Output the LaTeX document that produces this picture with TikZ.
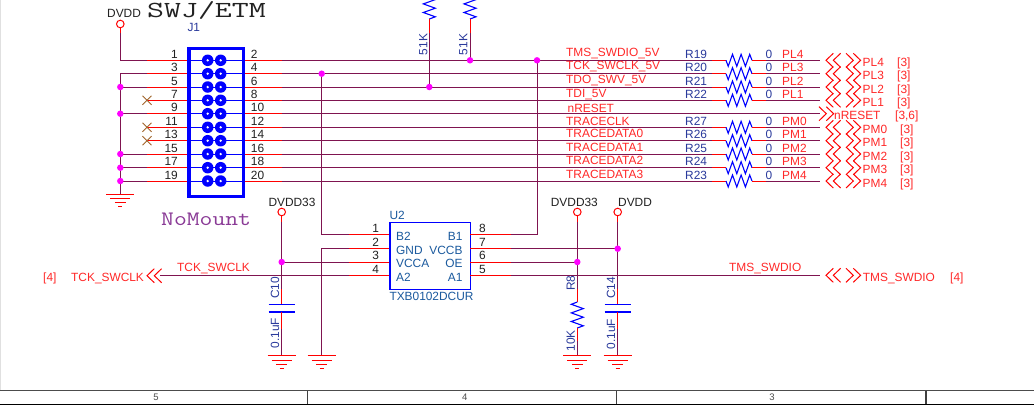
\documentclass[tikz,border=0pt]{standalone}
\usepackage{fontspec}
\setmainfont{Liberation Sans}
\setmonofont{Latin Modern Mono}
\definecolor{wirec}{HTML}{7F1450}
\definecolor{redt}{HTML}{FF2828}
\definecolor{navyt}{HTML}{2A3A9C}
\definecolor{chipt}{HTML}{1B5A9E}
\definecolor{blackt}{HTML}{222222}
\definecolor{nomountc}{HTML}{8A3A96}
\definecolor{juncc}{HTML}{FF00FF}
\definecolor{crossc}{HTML}{A0642A}
\tikzset{
  base/.style={inner sep=0pt,font=\fontsize{11.9}{12}\selectfont},
  tl/.style={base,anchor=base west},
  tr/.style={base,anchor=base east},
  tv/.style={base,anchor=center,rotate=90,text=navyt},
  red label/.style={text=redt},
  navy label/.style={text=navyt},
  chip label/.style={text=chipt},
  black label/.style={text=blackt},
  wire/.style={draw=wirec,line width=1pt},
  stub/.style={draw=red,line width=1pt},
  blueline/.style={draw=blue,line width=1pt},
  junction/.style={circle,fill=juncc,draw=none,inner sep=0pt,minimum size=6.5pt},
  pwr/.style={circle,draw=red,fill=white,line width=1pt,inner sep=0pt,minimum size=7.6pt},
  pins/.style={circle,fill=blue,draw=none,inner sep=0pt,minimum size=11.5pt},
  pics/hresistor/.style={code={
    \draw[draw=blue,line width=1.1pt,line join=miter] (0,0)--(2.2,6)--(6.5,-6)--(10.8,6)--(15.1,-6)--(19.4,6)--(23.7,-6)--(26,0);}},
  pics/vresistor/.style={code={
    \draw[draw=blue,line width=1.1pt] (0,0)--(6,-2.2)--(-6,-6.5)--(6,-10.8)--(-6,-15.1)--(6,-19.4)--(-6,-23.7)--(0,-26);}},
  pics/ground/.style={code={
    \draw[stub] (-14,0)--(14,0) (-10,4.3)--(10,4.3) (-5.5,8.3)--(5.5,8.3) (-2,12.6)--(2,12.6);}},
  pics/chevl/.style={code={
    \draw[draw=red,line width=1pt] (7.3,-7)--(0,0)--(7.3,7) (14.6,-7)--(7.3,0)--(14.6,7);}},
  pics/chevr/.style={code={
    \draw[draw=red,line width=1pt] (0,-7)--(7.3,0)--(0,7) (7.3,-7)--(14.6,0)--(7.3,7);}},
  pics/cross/.style={code={
    \draw[draw=crossc,line width=.9pt] (-4.5,-4.5)--(4.5,4.5) (-4.5,4.5)--(4.5,-4.5);}},
  pics/capacitor/.style={code={
    \draw[draw=blue,line width=1.5pt] (-13,0)--(13,0) (-13,7.3)--(13,7.3);}},
}
\begin{document}
\begin{tikzpicture}[x=1pt,y=-1pt]
\path[clip] (0,0) rectangle (1034,405);
\fill[white] (0,0) rectangle (1034,405);

% ---- connector J1 rows
\foreach \i/\y in {1/60.3,2/73.7,3/87,4/100.3,5/113.7,6/127.3,7/140.7,8/154,9/167.7,10/181}{
  \coordinate (la\i) at (147,\y);
  \coordinate (lb\i) at (187.3,\y);
  \coordinate (ra\i) at (241.7,\y);
  \coordinate (rb\i) at (282,\y);
  \coordinate (bus\i) at (120.3,\y);
  \coordinate (ea\i) at (712,\y);
  \coordinate (eb\i) at (726,\y);
  \coordinate (ec\i) at (752,\y);
  \coordinate (ed\i) at (766,\y);
  \coordinate (ee\i) at (820,\y);
  \draw[stub] (la\i)--(lb\i);
  \draw[stub] (ra\i)--(rb\i);
  \draw[blueline] (lb\i)--(ra\i);
  \node[pins] (pa\i) at (207.7,\y) {};
  \node[pins] (pb\i) at (220.7,\y) {};
  \fill[white] (pa\i) circle (1.3);
  \fill[white] (pb\i) circle (1.3);
}
\node[draw=blue,line width=3.4pt,minimum width=54.4pt,minimum height=148.3pt,inner sep=0pt,anchor=north west] (J1box) at (187.3,46.7) {};

% left bus
\foreach \i in {1,2,3,5,8,9,10}{ \draw[wire] (bus\i)--(la\i); }
\coordinate (gndA) at (120.3,194.3);
\draw[wire] (bus2)--(gndA);
\pic at (gndA) {ground};
\foreach \i in {3,5,8,9,10}{ \node[junction] (jl\i) at (bus\i) {}; }
\foreach \i in {4,6,7}{ \pic at (la\i) {cross}; }

% DVDD power
\node[pwr] (pDVDD) at (120.3,24) {};
\coordinate (pDa) at (120.3,33);
\draw[stub] (pDVDD)--(pDa);
\draw[wire] (pDa)--(bus1);
\node[tl,black label] (tDVDD) at (107,17.3) {DVDD};

% right rows
\foreach \i in {1,2,3,4,6,7,8,9,10}{
  \draw[wire] (rb\i)--(ea\i);
  \draw[stub] (ea\i)--(eb\i);
  \pic at (eb\i) {hresistor};
  \draw[stub] (ec\i)--(ed\i);
  \draw[wire] (ed\i)--(ee\i);
}
\draw[wire] (rb5)--(ee5);

% pull-up resistors
\coordinate (puA) at (429.3,19); \coordinate (puAm) at (429.3,33);
\coordinate (puB) at (470,19);   \coordinate (puBm) at (470,33);
\coordinate (juA) at (429.3,87); \coordinate (juB) at (470,60.3);
\pic at (puA) {vresistor};
\pic at (puB) {vresistor};
\draw[stub] (puA)--(puAm); \draw[stub] (puB)--(puBm);
\draw[wire] (puAm)--(juA); \draw[wire] (puBm)--(juB);
\node[tv] (tRa) at (423.3,44.5) {51K};
\node[tv] (tRb) at (463.3,44.5) {51K};

% U2
\node[draw=blue,line width=1.2pt,minimum width=80.7pt,minimum height=67pt,inner sep=0pt,anchor=north west] (U2) at (389.3,221.7) {};
\foreach \i/\y in {1/234.7,2/248.7,3/262,4/275.3}{
  \coordinate (ul\i) at (349,\y);
  \coordinate (um\i) at (389.3,\y);
  \coordinate (un\i) at (470,\y);
  \coordinate (ur\i) at (511,\y);
  \draw[stub] (ul\i)--(um\i);
  \draw[stub] (un\i)--(ur\i);
}
\coordinate (vA) at (321.7,73.7);
\coordinate (vB) at (321.7,234.7);
\coordinate (vC) at (321.7,248.7);
\coordinate (vD) at (321.7,355.7);
\coordinate (vE) at (537,60.3);
\coordinate (vF) at (537,234.7);
\draw[wire] (vA)--(vB)--(ul1);
\draw[wire] (ul2)--(vC)--(vD);
\pic at (vD) {ground};
\draw[wire] (ur1)--(vF)--(vE);

% C10 branch
\node[pwr] (pC10) at (281.7,212) {};
\coordinate (c10a) at (281.7,222);
\coordinate (c10b) at (281.7,289);
\coordinate (c10c) at (281.7,304.7);
\coordinate (c10d) at (281.7,312);
\coordinate (c10e) at (281.7,329);
\coordinate (c10g) at (281.7,355.7);
\coordinate (c10j) at (281.7,262);
\draw[stub] (pC10)--(c10a);
\draw[wire] (c10a)--(c10b);
\draw[stub] (c10b)--(c10c);
\pic at (c10c) {capacitor};
\draw[stub] (c10d)--(c10e);
\draw[wire] (c10e)--(c10g);
\pic at (c10g) {ground};
\draw[wire] (c10j)--(ul3);
\node[tl,black label] (tC10p) at (268.3,206) {DVDD33};
\node[tv] (tC10) at (275,288) {C10};
\node[tv] (tC10v) at (275,333.3) {0.1uF};

% R8 branch
\node[pwr] (pR8) at (577.3,212) {};
\coordinate (r8a) at (577.3,222);
\coordinate (r8b) at (577.3,289);
\coordinate (r8c) at (577.3,328);
\coordinate (r8d) at (577.3,301.7);
\coordinate (r8e) at (577.3,341);
\coordinate (r8g) at (577.3,355.7);
\coordinate (r8j) at (577.3,262);
\draw[stub] (pR8)--(r8a);
\draw[wire] (r8a)--(r8b);
\draw[stub] (r8b)--(r8d);
\pic at (r8c) {vresistor};
\draw[stub] (r8c)--(r8e);
\draw[wire] (r8e)--(r8g);
\pic at (r8g) {ground};
\draw[wire] (ur3)--(r8j);
\node[tl,black label] (tR8p) at (550.7,206) {DVDD33};
\node[tv] (tR8) at (570.7,283) {R8};
\node[tv] (tR8v) at (570.7,341) {10K};

% C14 branch
\node[pwr] (pC14) at (617.7,212) {};
\coordinate (c14a) at (617.7,222);
\coordinate (c14b) at (617.7,289);
\coordinate (c14c) at (617.7,304.7);
\coordinate (c14d) at (617.7,312);
\coordinate (c14e) at (617.7,329);
\coordinate (c14g) at (617.7,355.7);
\coordinate (c14j) at (617.7,248.7);
\draw[stub] (pC14)--(c14a);
\draw[wire] (c14a)--(c14b);
\draw[stub] (c14b)--(c14c);
\pic at (c14c) {capacitor};
\draw[stub] (c14d)--(c14e);
\draw[wire] (c14e)--(c14g);
\pic at (c14g) {ground};
\draw[wire] (ur2)--(c14j);
\node[tl,black label] (tC14p) at (618,206) {DVDD};
\node[tv] (tC14) at (611,287.7) {C14};
\node[tv] (tC14v) at (611,334) {0.1uF};

% long signal row
\coordinate (sigL) at (160,275.3);
\coordinate (sigR) at (820,275.3);
\draw[wire] (sigL)--(ul4);
\draw[wire] (ur4)--(sigR);

% junctions
\foreach \n/\c in {a/vA,b/vE,c/juA,d/juB,e/c10j,f/r8j,g/c14j}{ \node[junction] (j\n) at (\c) {}; }

% chevrons and off-page labels
\foreach \y/\t/\n/\b/\bx in {
  60.3/PL4/a/[3]/897, 73.7/PL3/b/[3]/897, 87/PL2/c/[3]/897, 100.3/PL1/d/[3]/897,
  127.3/PM0/e/[3]/900, 140.7/PM1/f/[3]/900, 154/PM2/g/[3]/900, 167.7/PM3/h/[3]/900, 181/PM4/i/[3]/900}{
  \pic at (826,\y) {chevl};
  \pic at (846,\y) {chevr};
  \node[tl,red label] (off\n) at (862.5,\y+6) {\t};
  \node[tl,red label] (ref\n) at (\bx,\y+6) {\b};
}
\pic at (819,113.7) {chevr};
\node[tl,red label] (offR) at (834,119.8) {nRESET};
\node[tl,red label] (refR) at (895,119.8) {[3,6]};

\pic at (826,275.3) {chevl};
\pic at (846,275.3) {chevr};
\node[tl,red label] (offS) at (862.7,281) {TMS\_SWDIO};
\node[tl,red label] (refS) at (950,281) {[4]};
\node[tl,red label] (wireS) at (729,271.3) {TMS\_SWDIO};

\pic at (147,275.7) {chevl};
\node[tl,red label] (offC) at (71,281) {TCK\_SWCLK};
\node[tl,red label] (refC) at (43,281) {[4]};
\node[tl,red label] (wireC) at (177,271) {TCK\_SWCLK};

% signal names
\foreach \y/\t/\n in {56.3/TMS\_SWDIO\_5V/a,69.8/TCK\_SWCLK\_5V/b,83.3/TDO\_SWV\_5V/c,97.3/TDI\_5V/d,
  125.3/TRACECLK/f,137.8/TRACEDATA0/g,151.3/TRACEDATA1/h,164.8/TRACEDATA2/i,178.3/TRACEDATA3/j}{
  \node[tl,red label] (sig\n) at (566,\y) {\t};
}
\node[tl,red label] (sige) at (567.5,112.3) {nRESET};

% references and values
\foreach \y/\t/\n/\p in {58.3/R19/a/PL4,71.3/R20/b/PL3,85.3/R21/c/PL2,98.3/R22/d/PL1,
  125.3/R27/e/PM0,138.3/R26/f/PM1,152.3/R25/g/PM2,165.3/R24/h/PM3,179.3/R23/i/PM4}{
  \node[tl,navy label] (rr\n) at (685,\y) {\t};
  \node[tl,navy label] (rv\n) at (765.5,\y) {0};
  \node[tl,red label] (rl\n) at (782,\y) {\p};
}

% J1 pin numbers
\foreach \t/\y/\n in {1/54,3/67.4,5/80.7,7/94,9/107.4,11/121,13/134.4,15/147.7,17/161.4,19/174.7}{
  \node[tr,black label] (no\n) at (178,\y+4.3) {\t};
}
\foreach \t/\y/\n in {2/54,4/67.4,6/80.7,8/94,10/107.4,12/121,14/134.4,16/147.7,18/161.4,20/174.7}{
  \node[tl,black label] (ne\n) at (250.7,\y+4.3) {\t};
}
\node[tl,navy label] (tJ1) at (187.3,31.3) {J1};

% titles
\node[inner sep=0pt,anchor=base west,text=blackt,font=\fontsize{23}{24}\ttfamily] (tTitle) at (147,17.7) {\scalebox{1.43}[1]{SWJ/ETM}};
\node[inner sep=0pt,anchor=base west,text=nomountc,font=\fontsize{20.5}{21}\ttfamily] (tNM) at (161,225) {\scalebox{1.215}[1]{NoMount}};

% U2 texts
\node[tl,chip label] (tU2) at (389.3,219.3) {U2};
\node[tl,chip label] (tU2b) at (389.3,300.3) {TXB0102DCUR};
\foreach \t/\y/\n in {B2/240.8/a,GND/254.3/b,VCCA/267.3/c,A2/281.3/d}{
  \node[tl,chip label] (pl\n) at (396,\y) {\t};
}
\foreach \t/\y/\n in {B1/240.8/a,VCCB/254.3/b,OE/267.3/c,A1/281.3/d}{
  \node[tr,chip label] (pr\n) at (462.7,\y) {\t};
}
\foreach \t/\y in {1/232,2/246,3/259.3,4/273.3}{
  \node[tr,black label] (ua\t) at (379.3,\y) {\t};
}
\foreach \t/\y in {8/232,7/246,6/259.3,5/273.3}{
  \node[tl,black label] (ub\t) at (479,\y) {\t};
}

% title block strip
\coordinate (fa) at (0,390.7); \coordinate (fb) at (1034,390.7);
\coordinate (fc) at (0,404.2); \coordinate (fd) at (1034,404.2);
\draw[draw=black!70,line width=1.4pt] (fa)--(fb);
\draw[draw=black,line width=1.4pt] (fc)--(fd);
\foreach \x in {307.7,616.7,926}{
  \draw[draw=black!75,line width=1.2pt] (\x,390.7)--(\x,404.2);
}
\draw[draw=black!12,line width=1pt] (.5,0)--(.5,390);
\foreach \t/\x in {5/156,4/464.7,3/772}{
  \node[inner sep=0pt,anchor=center,text=black!70,font=\fontsize{9.5}{10}\selectfont] (fr\t) at (\x,397.5) {\t};
}
\end{tikzpicture}
\end{document}
